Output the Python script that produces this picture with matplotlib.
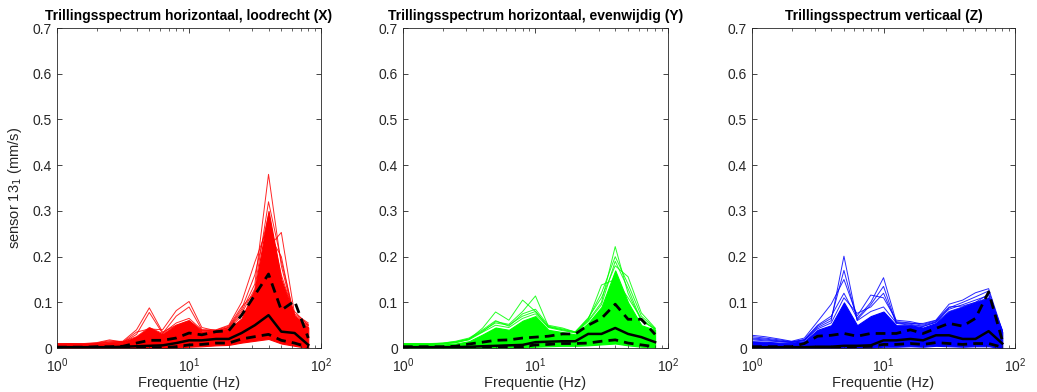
import matplotlib
matplotlib.use("Agg")
import matplotlib.pyplot as plt
from matplotlib.ticker import LogLocator, NullFormatter

plt.rcParams["font.family"] = ["Liberation Sans", "DejaVu Sans"]

# 1/3-octave band centre frequencies (Hz)
freq = [1, 1.25, 1.6, 2, 2.5, 3.15, 4, 5, 6.3, 8, 10, 12.5, 16, 20, 25, 31.5, 40, 50, 63, 80]

titles = ["Trillingsspectrum horizontaal, loodrecht (X)",
          "Trillingsspectrum horizontaal, evenwijdig (Y)",
          "Trillingsspectrum verticaal (Z)"]
colors = ["#ff0000", "#00ff00", "#0000ff"]

# X direction (mm/s): mean, upper/lower dashed, dense band and a few single spectra
x_mean = [0.002, 0.002, 0.002, 0.002, 0.002, 0.003, 0.004, 0.005, 0.006, 0.011, 0.017, 0.017, 0.020, 0.020, 0.033, 0.050, 0.072, 0.036, 0.033, 0.007]
x_hi = [0.002, 0.002, 0.002, 0.003, 0.003, 0.004, 0.011, 0.017, 0.017, 0.022, 0.033, 0.029, 0.036, 0.038, 0.072, 0.116, 0.162, 0.083, 0.103, 0.022]
x_lo = [0.001, 0.001, 0.001, 0.001, 0.001, 0.001, 0.001, 0.001, 0.001, 0.003, 0.007, 0.008, 0.011, 0.011, 0.020, 0.025, 0.030, 0.017, 0.011, 0.002]
x_min = [0.000, 0.000, 0.000, 0.000, 0.000, 0.000, 0.000, 0.000, 0.000, 0.001, 0.003, 0.004, 0.006, 0.007, 0.012, 0.016, 0.020, 0.010, 0.005, 0.000]
x_core = [0.008, 0.008, 0.008, 0.009, 0.011, 0.012, 0.025, 0.045, 0.030, 0.050, 0.060, 0.035, 0.038, 0.042, 0.065, 0.130, 0.300, 0.150, 0.070, 0.045]
x_traces = [
    [0.009, 0.009, 0.008, 0.009, 0.012, 0.013, 0.022, 0.040, 0.028, 0.045, 0.055, 0.036, 0.036, 0.045, 0.080, 0.140, 0.380, 0.180, 0.065, 0.050],
    [0.008, 0.008, 0.009, 0.010, 0.013, 0.012, 0.020, 0.035, 0.030, 0.050, 0.060, 0.038, 0.039, 0.048, 0.090, 0.120, 0.220, 0.253, 0.075, 0.055],
    [0.010, 0.010, 0.009, 0.011, 0.016, 0.014, 0.025, 0.045, 0.032, 0.055, 0.065, 0.040, 0.040, 0.050, 0.100, 0.188, 0.270, 0.120, 0.080, 0.050],
    [0.007, 0.007, 0.008, 0.010, 0.014, 0.015, 0.040, 0.088, 0.035, 0.050, 0.060, 0.038, 0.036, 0.042, 0.070, 0.110, 0.250, 0.200, 0.060, 0.045],
    [0.009, 0.010, 0.010, 0.012, 0.018, 0.013, 0.035, 0.042, 0.040, 0.082, 0.102, 0.045, 0.038, 0.044, 0.075, 0.130, 0.320, 0.190, 0.070, 0.048],
    [0.006, 0.006, 0.007, 0.008, 0.010, 0.012, 0.030, 0.078, 0.032, 0.070, 0.090, 0.040, 0.037, 0.046, 0.085, 0.160, 0.290, 0.160, 0.072, 0.052],
]

# Y direction (mm/s)
y_mean = [0.002, 0.002, 0.002, 0.002, 0.002, 0.003, 0.004, 0.005, 0.006, 0.007, 0.013, 0.014, 0.015, 0.015, 0.031, 0.031, 0.044, 0.031, 0.024, 0.013]
y_hi = [0.003, 0.003, 0.003, 0.003, 0.004, 0.009, 0.013, 0.017, 0.018, 0.022, 0.024, 0.026, 0.031, 0.031, 0.050, 0.065, 0.096, 0.063, 0.063, 0.030]
y_lo = [0.001, 0.001, 0.001, 0.001, 0.001, 0.001, 0.001, 0.002, 0.002, 0.003, 0.007, 0.008, 0.010, 0.010, 0.011, 0.015, 0.018, 0.011, 0.007, 0.003]
y_min = [0.000, 0.000, 0.000, 0.000, 0.000, 0.000, 0.000, 0.001, 0.001, 0.001, 0.003, 0.004, 0.005, 0.005, 0.006, 0.008, 0.010, 0.006, 0.003, 0.001]
y_core = [0.008, 0.008, 0.008, 0.008, 0.010, 0.015, 0.030, 0.045, 0.040, 0.060, 0.070, 0.040, 0.035, 0.030, 0.055, 0.090, 0.170, 0.100, 0.050, 0.040]
y_traces = [
    [0.009, 0.009, 0.008, 0.009, 0.012, 0.018, 0.035, 0.050, 0.045, 0.065, 0.075, 0.045, 0.038, 0.034, 0.060, 0.100, 0.222, 0.120, 0.060, 0.042],
    [0.008, 0.008, 0.009, 0.010, 0.013, 0.020, 0.038, 0.055, 0.050, 0.070, 0.080, 0.047, 0.040, 0.036, 0.066, 0.110, 0.180, 0.156, 0.077, 0.044],
    [0.010, 0.010, 0.009, 0.011, 0.015, 0.022, 0.040, 0.060, 0.048, 0.075, 0.085, 0.050, 0.044, 0.035, 0.062, 0.138, 0.150, 0.110, 0.065, 0.040],
    [0.007, 0.007, 0.008, 0.009, 0.012, 0.019, 0.044, 0.079, 0.061, 0.105, 0.080, 0.046, 0.040, 0.033, 0.058, 0.095, 0.190, 0.130, 0.060, 0.042],
    [0.009, 0.010, 0.010, 0.011, 0.014, 0.020, 0.036, 0.058, 0.052, 0.080, 0.114, 0.048, 0.042, 0.035, 0.064, 0.120, 0.200, 0.140, 0.070, 0.043],
]

# Z direction (mm/s)
z_mean = [0.002, 0.002, 0.002, 0.002, 0.002, 0.003, 0.003, 0.005, 0.005, 0.006, 0.017, 0.017, 0.020, 0.017, 0.028, 0.028, 0.020, 0.020, 0.037, 0.010]
z_hi = [0.003, 0.003, 0.003, 0.003, 0.010, 0.026, 0.028, 0.032, 0.026, 0.032, 0.032, 0.032, 0.040, 0.032, 0.043, 0.054, 0.048, 0.065, 0.123, 0.017]
z_lo = [0.001, 0.001, 0.001, 0.001, 0.001, 0.001, 0.001, 0.001, 0.003, 0.004, 0.008, 0.008, 0.010, 0.008, 0.012, 0.010, 0.008, 0.010, 0.010, 0.002]
z_min = [0.000, 0.000, 0.000, 0.000, 0.000, 0.000, 0.000, 0.000, 0.001, 0.001, 0.003, 0.003, 0.004, 0.003, 0.005, 0.004, 0.003, 0.004, 0.004, 0.000]
z_core = [0.015, 0.014, 0.012, 0.012, 0.015, 0.040, 0.050, 0.100, 0.050, 0.070, 0.080, 0.050, 0.050, 0.045, 0.055, 0.080, 0.090, 0.100, 0.110, 0.035]
z_traces = [
    [0.020, 0.018, 0.015, 0.013, 0.016, 0.045, 0.060, 0.201, 0.060, 0.080, 0.090, 0.055, 0.052, 0.048, 0.056, 0.080, 0.090, 0.100, 0.110, 0.036],
    [0.025, 0.022, 0.018, 0.014, 0.018, 0.050, 0.070, 0.120, 0.065, 0.100, 0.154, 0.058, 0.055, 0.050, 0.058, 0.085, 0.095, 0.105, 0.115, 0.038],
    [0.028, 0.025, 0.020, 0.015, 0.022, 0.058, 0.096, 0.150, 0.070, 0.116, 0.110, 0.061, 0.058, 0.052, 0.060, 0.090, 0.092, 0.100, 0.118, 0.040],
    [0.018, 0.016, 0.014, 0.012, 0.017, 0.042, 0.055, 0.110, 0.076, 0.090, 0.120, 0.056, 0.054, 0.054, 0.061, 0.096, 0.105, 0.121, 0.130, 0.038],
    [0.022, 0.020, 0.016, 0.013, 0.019, 0.048, 0.065, 0.170, 0.062, 0.095, 0.135, 0.054, 0.050, 0.047, 0.057, 0.088, 0.100, 0.112, 0.125, 0.036],
]

panels = [
    (x_mean, x_hi, x_lo, x_min, x_core, x_traces),
    (y_mean, y_hi, y_lo, y_min, y_core, y_traces),
    (z_mean, z_hi, z_lo, z_min, z_core, z_traces),
]

fig = plt.figure(figsize=(10.37, 3.92), dpi=100)
lefts = [0.055, 0.3886, 0.7252]
widths = [0.2546, 0.2555, 0.2536]
grey = "#262626"

for i, (mean, hi, lo, vmin, core, traces) in enumerate(panels):
    ax = fig.add_axes([lefts[i], 0.112, widths[i], 0.8165])
    c = colors[i]
    ax.fill_between(freq, vmin, core, color=c, lw=0.8, zorder=1)
    for tr in traces:
        ax.plot(freq, tr, color=c, lw=0.7, alpha=0.85, zorder=2)
    ax.plot(freq, mean, color="k", lw=1.8, zorder=4)
    ax.plot(freq, hi, color="k", lw=2.0, ls=(0, (3.5, 2.2)), zorder=4)
    ax.plot(freq, lo, color="k", lw=2.0, ls=(0, (3.5, 2.2)), zorder=4)

    ax.set_xscale("log")
    ax.set_xlim(1, 100)
    ax.set_ylim(0, 0.7)
    ax.set_yticks([0, 0.1, 0.2, 0.3, 0.4, 0.5, 0.6, 0.7])
    ax.set_yticklabels(["0", "0.1", "0.2", "0.3", "0.4", "0.5", "0.6", "0.7"])
    ax.xaxis.set_minor_locator(LogLocator(base=10, subs=range(2, 10)))
    ax.xaxis.set_minor_formatter(NullFormatter())
    ax.tick_params(which="both", direction="in", top=True, right=True,
                   colors=grey, labelsize=10, labelcolor=grey)
    ax.tick_params(axis="x", which="major", pad=6)
    ax.tick_params(which="major", length=3.5, width=0.6)
    ax.tick_params(which="minor", length=2, width=0.5)
    for s in ax.spines.values():
        s.set_color(grey)
        s.set_linewidth(0.6)
    ax.set_title(titles[i], fontsize=10, fontweight="bold", pad=6)
    ax.set_xlabel("Frequentie (Hz)", fontsize=10.5, color=grey, labelpad=1)
    if i == 0:
        ax.set_ylabel("sensor 13$_1$ (mm/s)", fontsize=10.5, color=grey, labelpad=6)

fig.savefig("out.png", dpi=100)
